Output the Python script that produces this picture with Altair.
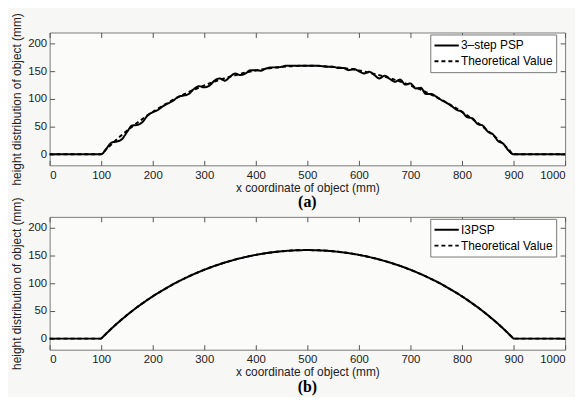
import altair as alt
import pandas as pd

# ---- data ----
x_vals = [0] + list(range(100, 901, 10)) + [1000]

theoretical = [0, 0, 9.3, 18.2, 26.7, 34.8, 42.5, 49.9, 57.0, 63.7, 70.2, 76.4,
               82.3, 87.9, 93.3, 98.5, 103.4, 108.0, 112.4, 116.7, 120.6, 124.4,
               128.0, 131.4, 134.5, 137.5, 140.3, 142.8, 145.2, 147.5, 149.5, 151.3,
               153.0, 154.5, 155.8, 156.9, 157.8, 158.6, 159.2, 159.7, 159.9,
               160.0,
               159.9, 159.7, 159.2, 158.6, 157.8, 156.9, 155.8, 154.5, 153.0,
               151.3, 149.5, 147.5, 145.2, 142.8, 140.3, 137.5, 134.5, 131.4, 128.0,
               124.4, 120.6, 116.7, 112.4, 108.0, 103.4, 98.5, 93.3, 87.9, 82.3,
               76.4, 70.2, 63.7, 57.0, 49.9, 42.5, 34.8, 26.7, 18.2, 9.3, 0, 0]

psp3 = [0, 0, 10, 21, 23, 27, 40, 52, 53, 58, 70, 76,
        80, 87, 92, 97, 104, 106, 109, 118, 123, 121,
        124, 133, 137, 133, 140, 146, 143, 146, 152, 152,
        151, 155, 157, 157, 158, 160, 160, 160, 160,
        160,
        160, 160, 159, 158, 158, 156, 156, 152, 154,
        150, 146, 149, 143, 137, 142, 136, 131, 135, 126,
        128, 119, 120, 109, 109, 104, 98, 93, 87, 80,
        77, 67, 65, 55, 52, 41, 36, 24, 19, 7, 0, 0]

i3psp = [0, 0, 9.3, 18.2, 26.7, 34.8, 42.5, 49.9, 57.0, 63.7, 70.2, 76.4,
         82.3, 87.9, 93.3, 98.5, 103.4, 108.0, 112.4, 116.7, 120.6, 124.4,
         128.0, 131.4, 134.5, 137.5, 140.3, 142.8, 145.2, 147.5, 149.5, 151.3,
         153.0, 154.5, 155.8, 156.9, 157.8, 158.6, 159.2, 159.7, 159.9,
         160.0,
         159.9, 159.7, 159.2, 158.6, 157.8, 156.9, 155.8, 154.5, 153.0,
         151.3, 149.5, 147.5, 145.2, 142.8, 140.3, 137.5, 134.5, 131.4, 128.0,
         124.4, 120.6, 116.7, 112.4, 108.0, 103.4, 98.5, 93.3, 87.9, 82.3,
         76.4, 70.2, 63.7, 57.0, 49.9, 42.5, 34.8, 26.7, 18.2, 9.3, 0, 0]

x_ticks = [0, 100, 200, 300, 400, 500, 600, 700, 800, 900, 1000]
y_ticks = [0, 50, 100, 150, 200]

FONT = "Liberation Sans"
W, H = 520, 134


def panel(sim_name, sim_vals, tag, interp):
    n = len(x_vals)
    df = pd.DataFrame({
        "x": x_vals + x_vals,
        "y": list(sim_vals) + list(theoretical),
        "series": [sim_name] * n + ["Theoretical Value"] * n,
    })
    xs = alt.Scale(domain=[0, 1000], nice=False, zero=False)
    ys = alt.Scale(domain=[-20, 220], nice=False, zero=False)
    common = dict(offset=-5, tickSize=5, domain=False, grid=False,
                  tickColor="#555555")
    line = alt.Chart(df).mark_line(strokeWidth=2, color="black",
                                   interpolate=interp).encode(
        x=alt.X("x:Q", scale=xs, axis=alt.Axis(
            values=x_ticks, format="d", title="x coordinate of object (mm)",
            labelPadding=4, titlePadding=2, **common)),
        y=alt.Y("y:Q", scale=ys, axis=alt.Axis(
            values=y_ticks, format="d",
            title="height distribution of object (mm)",
            labelPadding=3, titlePadding=4, **common)),
        strokeDash=alt.StrokeDash("series:N", scale=alt.Scale(
            domain=[sim_name, "Theoretical Value"],
            range=[[1, 0], [4, 3]]),
            legend=alt.Legend(
                title=None, orient="none", legendX=384, legendY=2,
                symbolType="stroke", symbolSize=600, symbolStrokeWidth=2,
                symbolStrokeColor="black", clipHeight=16, rowPadding=0,
                labelFontSize=12, labelFont=FONT, labelColor="black",
                labelOffset=1, padding=3, strokeColor="#777777",
                fillColor="white")),
    )
    frame = alt.Chart(df).mark_point(opacity=0).encode(
        x=alt.X("x:Q", scale=xs, axis=alt.Axis(
            orient="top", values=x_ticks, labels=False, title=None, **common)),
        y=alt.Y("y:Q", scale=ys, axis=alt.Axis(
            orient="right", values=y_ticks, labels=False, title=None, **common)),
    )
    return alt.layer(line, frame).resolve_axis(
        x="independent", y="independent"
    ).properties(
        width=W, height=H,
        title=alt.TitleParams(tag, orient="bottom", font="Liberation Serif",
                              fontSize=16, fontWeight="bold", offset=1,
                              anchor="middle", color="black"),
    )


top = panel("3–step PSP", psp3, "(a)", "monotone")
bottom = panel("I3PSP", i3psp, "(b)", "linear")

chart = alt.vconcat(top, bottom, spacing=52, bounds="flush").resolve_scale(
    strokeDash="independent"
).resolve_legend(
    strokeDash="independent"
).properties(
    padding={"top": 2, "left": 2, "right": 5, "bottom": 0},
    background="#f7f7f5",
).configure_view(
    stroke="#7a7a7a", strokeWidth=1, fill="#fbfbfa"
).configure_axis(
    labelFont=FONT, labelFontSize=11.5, labelColor="#222222",
    titleFont=FONT, titleFontSize=12, titleFontWeight="normal",
    titleColor="#222222",
)

chart.save("out.html", embed_options={"renderer": "svg", "actions": False})
